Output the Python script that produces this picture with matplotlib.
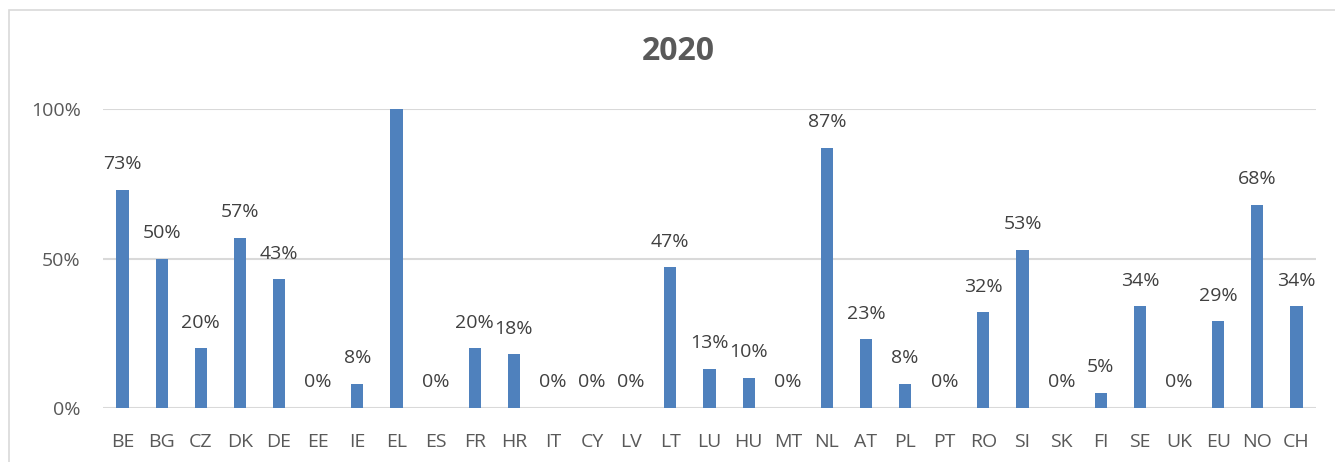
import matplotlib
matplotlib.use("Agg")
import matplotlib.pyplot as plt
from matplotlib.patches import Rectangle
import numpy as np

categories = ["BE", "BG", "CZ", "DK", "DE", "EE", "IE", "EL", "ES", "FR", "HR", "IT", "CY",
              "LV", "LT", "LU", "HU", "MT", "NL", "AT", "PL", "PT", "RO", "SI", "SK", "FI",
              "SE", "UK", "EU", "NO", "CH"]
values = [73, 50, 20, 57, 43, 0, 8, 100, 0, 20, 18, 0, 0,
          0, 47, 13, 10, 0, 87, 23, 8, 0, 32, 53, 0, 5,
          34, 0, 29, 68, 34]
yticks = [0, 50, 100]
ytick_labels = ["0%", "50%", "100%"]
title = "2020"

plt.rcParams['font.family'] = ['Open Sans', 'DejaVu Sans']
TXT = "#595959"
BAR = "#4F81BD"
GRID = "#D9D9D9"

fig = plt.figure(figsize=(13.35, 4.62), dpi=100)
fig.patch.set_facecolor("white")
# outer chart border
fig.add_artist(Rectangle((9/1335, -0.1), 1.2, 1 - 10/462 + 0.1, transform=fig.transFigure,
                         fill=False, edgecolor=GRID, lw=1.2))

ax = fig.add_axes([103/1335, 1 - 408/462, (1316 - 103)/1335, (408 - 109)/462])
x = np.arange(len(categories))
vals = np.array(values) / 100.0
ax.bar(x, vals, width=0.31, color=BAR, zorder=3)
ax.set_xlim(-0.5, len(categories) - 0.5)
ax.set_ylim(0, 1.0)
ax.set_yticks(np.array(yticks) / 100.0)
ax.set_yticklabels(ytick_labels)
ax.set_xticks(x)
ax.set_xticklabels(categories)
ax.tick_params(axis='both', length=0, labelsize=14, colors=TXT)
ax.tick_params(axis='x', pad=18)
ax.tick_params(axis='y', pad=16)
for s in ax.spines.values():
    s.set_visible(False)
ax.yaxis.grid(True, color=GRID, lw=1.5, zorder=0)
ax.set_axisbelow(True)

for xi, v, raw in zip(x, vals, values):
    if raw >= 100:
        continue
    ax.annotate(f"{raw}%", (xi, v), xytext=(0, 12), textcoords="offset points",
                ha="center", va="bottom", fontsize=14, color="#404040", clip_on=False)

fig.text(678/1335, 1 - 52/462, title, ha="center", va="center", fontsize=23,
         fontweight="bold", color=TXT)

fig.savefig("out.png", dpi=100)
